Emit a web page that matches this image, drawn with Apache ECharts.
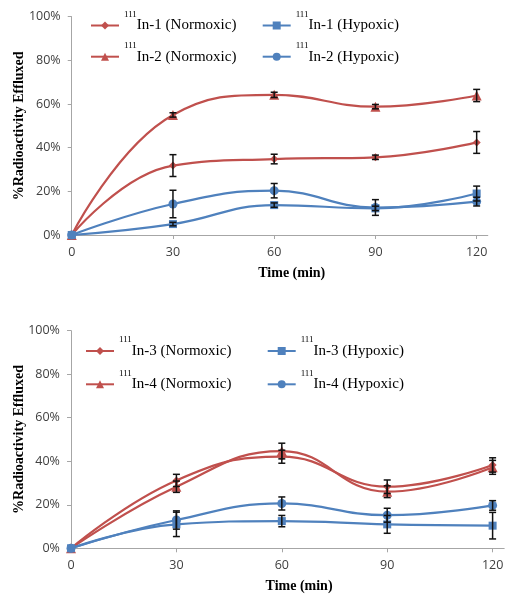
<!DOCTYPE html>
<html><head><meta charset="utf-8">
<script src="https://cdn.jsdelivr.net/npm/echarts@6/dist/echarts.min.js"></script>
<style>html,body{margin:0;padding:0;background:#fff}#c{width:514px;height:600px}</style>
</head><body><div id="c"></div>
<script>
// ---- data ----
const times = [0, 30, 60, 90, 120];
const xTickValues = [0, 30, 60, 90, 120];
const supText = '111';

// Top panel
const in1Normoxic = [0, 31.8, 34.8, 35.6, 42.4];
const in1NormoxicErr = [0, 5.0, 2.2, 1.0, 5.0];
const in1Hypoxic = [0, 5.0, 13.7, 12.2, 19.0];
const in1HypoxicErr = [0, 0.8, 1.0, 1.0, 3.4];
const in2Normoxic = [0, 55.0, 64.2, 58.8, 63.9];
const in2NormoxicErr = [0, 1.0, 1.2, 1.0, 2.8];
const in2Hypoxic = [0, 14.2, 20.3, 12.6, 15.3];
const in2HypoxicErr = [0, 6.3, 3.3, 3.6, 2.0];

// Bottom panel
const in3Normoxic = [0, 31.2, 42.1, 28.3, 38.3];
const in3NormoxicErr = [0, 2.8, 3.0, 3.1, 3.3];
const in3Hypoxic = [0, 11.0, 12.5, 11.0, 10.4];
const in3HypoxicErr = [0, 5.6, 2.6, 4.1, 6.1];
const in4Normoxic = [0, 28.3, 44.7, 26.0, 37.2];
const in4NormoxicErr = [0, 2.6, 3.6, 2.7, 3.2];
const in4Hypoxic = [0, 13.0, 20.6, 15.2, 19.7];
const in4HypoxicErr = [0, 4.2, 3.0, 3.2, 2.2];

// ---- styling ----
const RED = '#C0504D', BLUE = '#4F81BD';
const AXIS = '#A6A6A6';
const LABEL = '#404040';
const serif = '"Liberation Serif", "Times New Roman", serif';
const sans = '"Open Sans", "Liberation Sans", sans-serif';

function lineSeries(name, vals, grid, color, symbol, size) {
  return {
    type: 'line', name, xAxisIndex: grid, yAxisIndex: grid,
    data: times.map((t, i) => [t, vals[i]]),
    smooth: 0.45, symbol, symbolSize: size, showAllSymbol: true,
    lineStyle: { color, width: 2.2 }, itemStyle: { color },
    z: 3
  };
}
function errSeries(vals, errs, grid) {
  const d = [];
  times.forEach((t, i) => { if (errs[i] > 0) d.push([t, vals[i] - errs[i], vals[i] + errs[i]]); });
  return {
    type: 'custom', xAxisIndex: grid, yAxisIndex: grid, data: d, z: 5, silent: true,
    encode: { x: 0, y: [1, 2] },
    renderItem(params, api) {
      const x = api.value(0);
      const p1 = api.coord([x, api.value(2)]);
      const p2 = api.coord([x, api.value(1)]);
      const w = 3.5;
      const style = { stroke: '#111', lineWidth: 1.5 };
      return { type: 'group', children: [
        { type: 'line', shape: { x1: p1[0], y1: p1[1], x2: p2[0], y2: p2[1] }, style },
        { type: 'line', shape: { x1: p1[0] - w, y1: p1[1], x2: p1[0] + w, y2: p1[1] }, style },
        { type: 'line', shape: { x1: p2[0] - w, y1: p2[1], x2: p2[0] + w, y2: p2[1] }, style }
      ]};
    }
  };
}
function xAxis(grid, padLeft, gap) {
  return {
    type: 'value', gridIndex: grid, min: -0.6, max: 123.3,
    axisLine: { show: true, lineStyle: { color: AXIS, width: 1 } },
    axisTick: { show: true, length: 4, lineStyle: { color: AXIS }, customValues: xTickValues },
    axisLabel: { color: LABEL, fontFamily: sans, fontSize: 12.5, margin: 10.5, customValues: xTickValues },
    splitLine: { show: false },
    name: 'Time (min)', nameLocation: 'middle', nameGap: gap, nameMoveOverlap: false,
    nameTextStyle: { fontFamily: serif, fontWeight: 'bold', fontSize: 14, color: '#000', padding: [0, 0, 0, padLeft] }
  };
}
function yAxis(grid) {
  return {
    type: 'value', gridIndex: grid, min: 0, max: 100, interval: 20,
    axisLine: { show: true, lineStyle: { color: AXIS, width: 1 } },
    axisTick: { show: true, length: 4, lineStyle: { color: AXIS } },
    axisLabel: { color: LABEL, fontFamily: sans, fontSize: 12.5, margin: 9, formatter: '{value}%' },
    splitLine: { show: false },
    name: '%Radioactivity Effluxed', nameLocation: 'middle', nameGap: 43, nameRotate: 90, nameMoveOverlap: false,
    nameTextStyle: { fontFamily: serif, fontWeight: 'bold', fontSize: 14, color: '#000' }
  };
}
function legend(names, left, top, gap) {
  return {
    orient: 'vertical', left, top, padding: 0, itemGap: gap,
    itemWidth: 28, itemHeight: 10, selectedMode: false,
    data: names,
    formatter: n => '{s|' + supText + '}{n|' + n + '}',
    textStyle: {
      color: '#000',
      rich: {
        s: { fontFamily: serif, fontSize: 9, verticalAlign: 'top', color: '#000' },
        n: { fontFamily: serif, fontSize: 15, lineHeight: 31, color: '#000' }
      }
    }
  };
}

const option = {
  animation: false,
  backgroundColor: '#fff',
  grid: [
    { left: 69.7, top: 16.7, width: 418.1, height: 218.3, containLabel: false, outerBoundsMode: 'none' },
    { left: 68.9, top: 330.7, width: 435.3, height: 217.6, containLabel: false, outerBoundsMode: 'none' }
  ],
  xAxis: [xAxis(0, 26, 31.5), xAxis(1, 25, 31)],
  yAxis: [yAxis(0), yAxis(1)],
  legend: [
    legend(['In-1 (Normoxic)', 'In-2 (Normoxic)'], 90, 10, 8.2),
    legend(['In-1 (Hypoxic)', 'In-2 (Hypoxic)'], 261.7, 10, 8.2),
    legend(['In-3 (Normoxic)', 'In-4 (Normoxic)'], 85, 335.5, 10.3),
    legend(['In-3 (Hypoxic)', 'In-4 (Hypoxic)'], 266.7, 335.5, 10.3)
  ],
  series: [
    lineSeries('In-1 (Normoxic)', in1Normoxic, 0, RED, 'diamond', 8),
    lineSeries('In-2 (Normoxic)', in2Normoxic, 0, RED, 'triangle', 10),
    lineSeries('In-2 (Hypoxic)', in2Hypoxic, 0, BLUE, 'circle', 9),
    lineSeries('In-1 (Hypoxic)', in1Hypoxic, 0, BLUE, 'rect', 8),
    errSeries(in1Normoxic, in1NormoxicErr, 0),
    errSeries(in2Normoxic, in2NormoxicErr, 0),
    errSeries(in2Hypoxic, in2HypoxicErr, 0),
    errSeries(in1Hypoxic, in1HypoxicErr, 0),
    lineSeries('In-3 (Normoxic)', in3Normoxic, 1, RED, 'diamond', 8),
    lineSeries('In-4 (Normoxic)', in4Normoxic, 1, RED, 'triangle', 10),
    lineSeries('In-4 (Hypoxic)', in4Hypoxic, 1, BLUE, 'circle', 9),
    lineSeries('In-3 (Hypoxic)', in3Hypoxic, 1, BLUE, 'rect', 8),
    errSeries(in3Normoxic, in3NormoxicErr, 1),
    errSeries(in4Normoxic, in4NormoxicErr, 1),
    errSeries(in4Hypoxic, in4HypoxicErr, 1),
    errSeries(in3Hypoxic, in3HypoxicErr, 1)
  ]
};
const chart = echarts.init(document.getElementById('c'), null, { renderer: 'canvas' });
chart.setOption(option);
</script>
</body></html>
